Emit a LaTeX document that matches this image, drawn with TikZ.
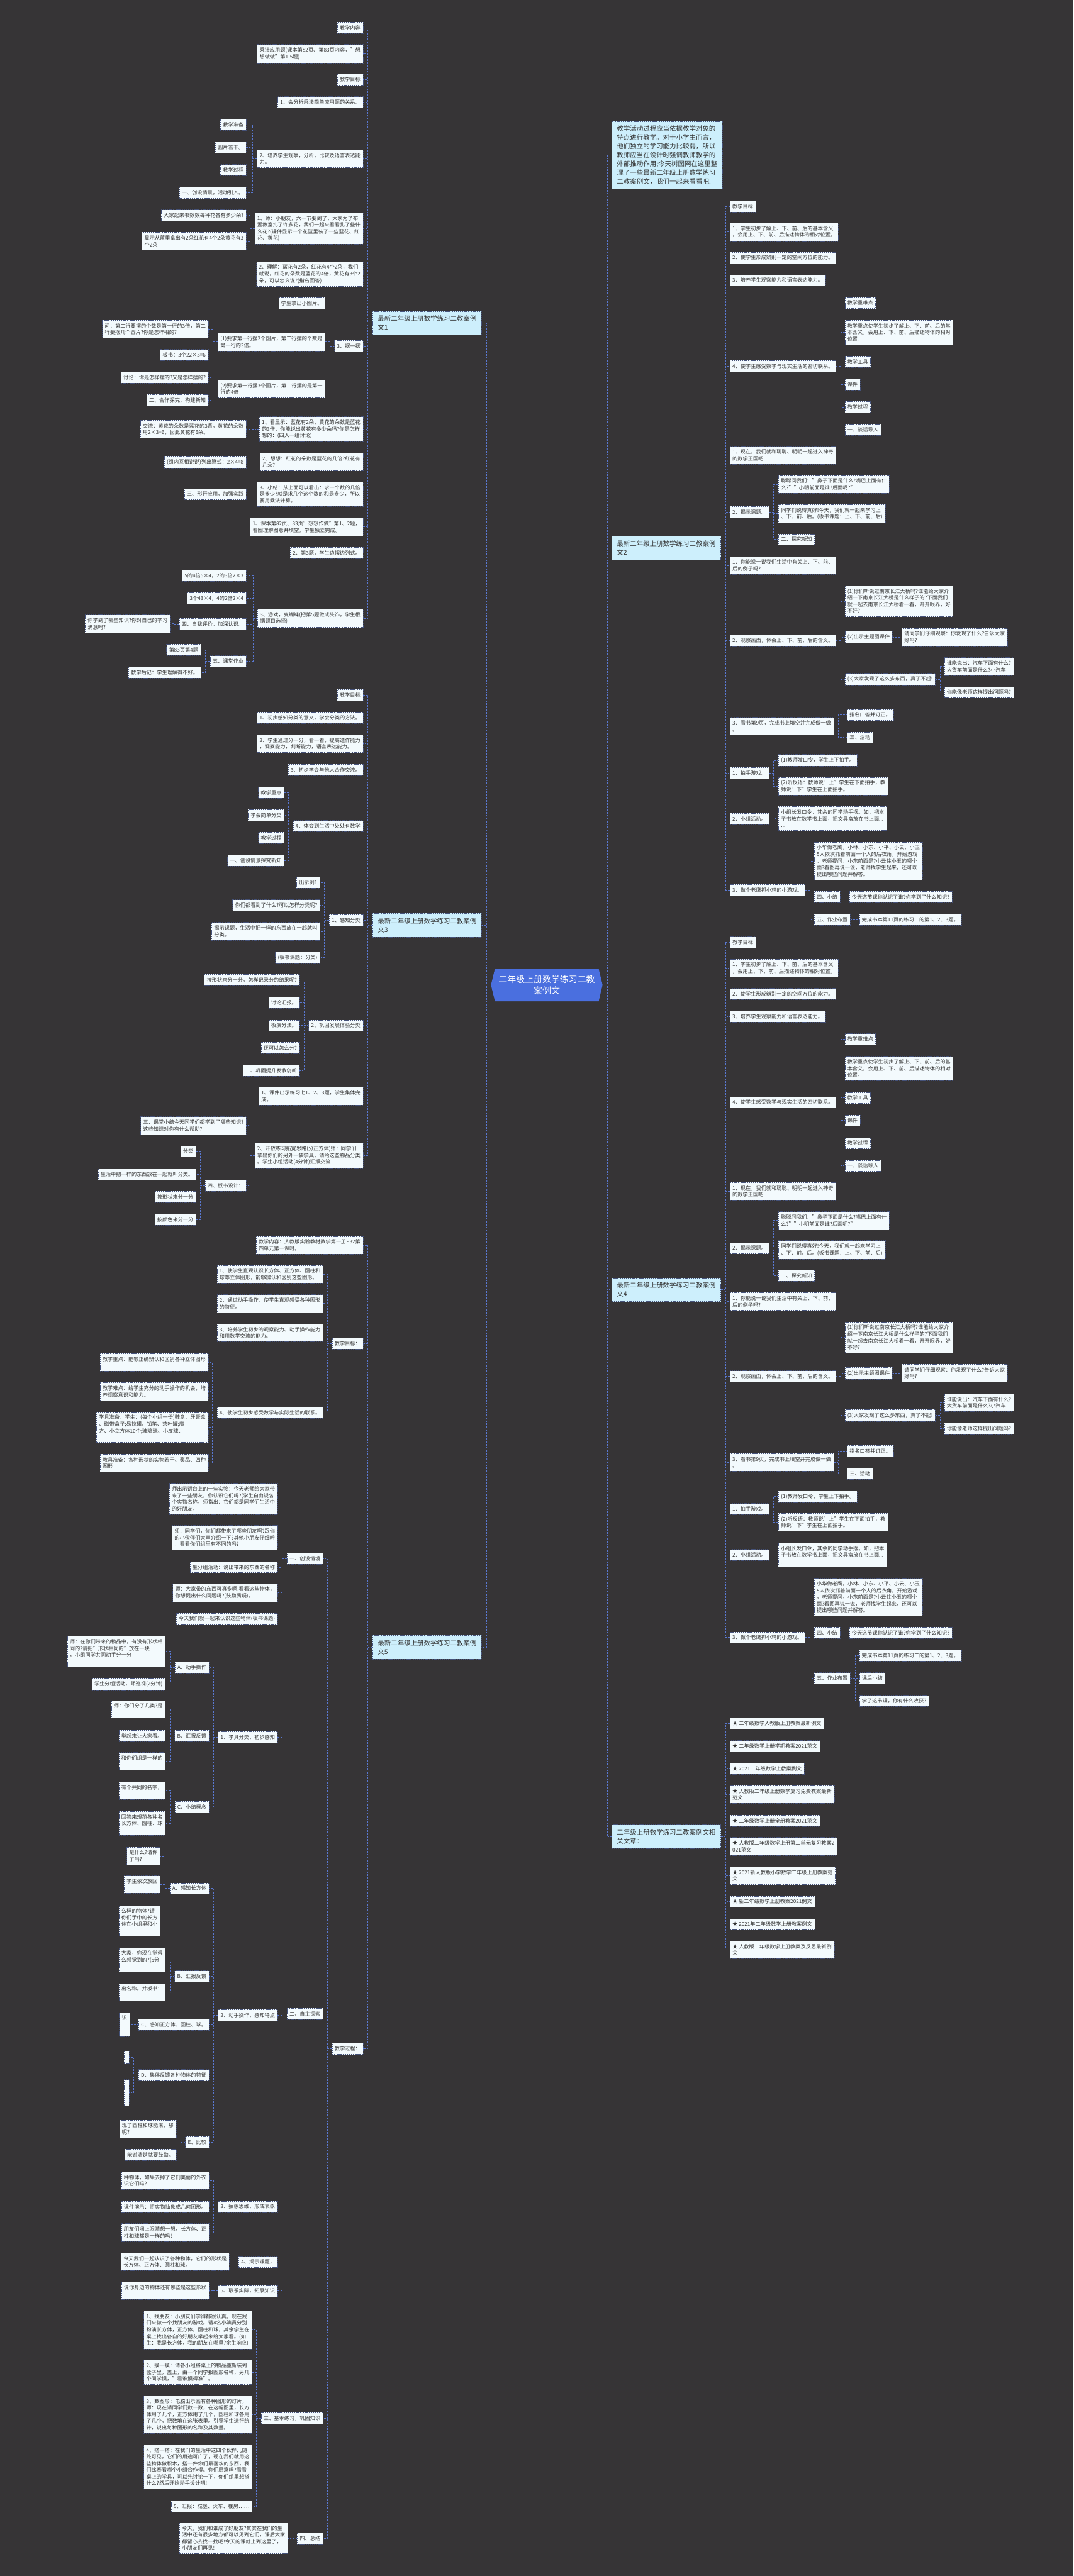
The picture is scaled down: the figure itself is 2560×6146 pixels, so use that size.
\documentclass[tikz,border=0pt]{standalone}
\usepackage{fontspec}
\setmainfont{Noto Sans CJK SC}
\usetikzlibrary{shapes.symbols}
\definecolor{Bg}{HTML}{363436}
\definecolor{Ink}{HTML}{333333}
\definecolor{LeafFill}{HTML}{F3FAFD}
\definecolor{BranchFill}{HTML}{CDEFFC}
\definecolor{BoxLine}{HTML}{45527A}
\definecolor{Link}{HTML}{5A78D0}
\definecolor{CtrFill}{HTML}{4A6FDF}
\newcommand\leaffont{\fontsize{12.3pt}{15.8pt}\selectfont}
\newcommand\branchfont{\fontsize{15.7pt}{20.8pt}\selectfont}
\newcommand\ctrfont{\fontsize{20.9pt}{28pt}\selectfont}

\tikzset{
  leaf/.style={
    draw=BoxLine,
    line width=.8pt,
    dash pattern=on 3pt off 2pt,
    fill=LeafFill,
    text=Ink,
    font=\leaffont,
    align=left,
    inner xsep=6pt,
    inner ysep=7.6pt
  },
  lnode/.style={leaf, anchor=east},
  rnode/.style={leaf, anchor=west},
  branch/.style={
    leaf,
    fill=BranchFill,
    font=\branchfont,
    inner xsep=12.2pt,
    inner ysep=10.6pt
  },
  hub/.style={
    signal,
    signal to=east and west,
    signal pointer angle=153,
    fill=CtrFill,
    text=white,
    font=\ctrfont,
    align=center,
    minimum width=266pt,
    minimum height=78pt,
    inner sep=0pt
  },
  link/.style={
    draw=Link,
    line width=1.1pt,
    dash pattern=on 4pt off 3pt
  }
}

% shared part of lessons 2 and 4 (used with a name prefix)
\newcommand\lessonupper{
  \node[rnode] (tA) at (1740.5,492) {教学目标};
  \node[rnode] (tB) at (1740.5,553) {1、学生初步了解上、下、前、后的基本含义\\，会用上、下、前、后描述物体的相对位置。};
  \node[rnode] (tC) at (1740.5,615) {2、使学生形成辨别一定的空间方位的能力。};
  \node[rnode] (tD) at (1740.5,669) {3、培养学生观察能力和语言表达能力。};
  \node[rnode] (tE) at (1740.5,873.5) {4、使学生感受数学与现实生活的密切联系。};
  \node[rnode] (tE1) at (2014.4,723) {教学重难点};
  \node[rnode] (tE2) at (2014.4,793) {教学重点使学生初步了解上、下、前、后的基\\本含义，会用上、下、前、后描述物体的相对\\位置。};
  \node[rnode] (tE3) at (2014.4,863) {教学工具};
  \node[rnode] (tE4) at (2014.4,917) {课件};
  \node[rnode] (tE5) at (2014.4,971) {教学过程};
  \node[rnode] (tE6) at (2014.4,1025) {一、谈话导入};
  \node[rnode] (tF) at (1740.5,1086) {1、现在，我们就和聪聪、明明一起进入神奇\\的数学王国吧!};
  \node[rnode] (tG) at (1740.5,1221.6) {2、揭示课题。};
  \node[rnode] (tG1) at (1856.4,1155.5) {聪聪问我们："鼻子下面是什么?嘴巴上面有什\\么?""小明前面是谁?后面呢?"};
  \node[rnode] (tG2) at (1856.4,1225.5) {同学们说得真好!今天，我们就一起来学习上\\、下、前、后。(板书课题：上、下、前、后)};
  \node[rnode] (tG3) at (1856.4,1287) {二、探究新知};
  \node[rnode] (tH) at (1740.5,1349) {1、你能说一说我们生活中有关上、下、前、\\后的例子吗?};
  \node[rnode] (tI) at (1740.5,1527.5) {2、观察画面，体会上、下、前、后的含义。};
  \node[rnode] (tI1) at (2014.4,1434.5) {(1)你们听说过南京长江大桥吗?谁能给大家介\\绍一下南京长江大桥是什么样子的?下面我们\\就一起去南京长江大桥看一看，开开眼界，好\\不好?};
  \node[rnode] (tI2) at (2014.4,1520) {(2)出示主题图课件};
  \node[rnode] (tI2a) at (2150.3,1520) {请同学们仔细观察：你发现了什么?告诉大家\\好吗?};
  \node[rnode] (tI3) at (2014.4,1620.5) {(3)大家发现了这么多东西，真了不起!};
  \node[rnode] (tI3a) at (2251.5,1590) {谁能说出：汽车下面有什么?\\大货车前面是什么?小汽车};
  \node[rnode] (tI3b) at (2251.5,1651.5) {你能像老师这样提出问题吗?};
  \node[rnode] (tJ) at (1740.5,1732.5) {3、看书第9页，完成书上填空并完成做一做\\。};
  \node[rnode] (tJ1) at (2019.7,1705.6) {指名口答并订正。};
  \node[rnode] (tJ2) at (2019.7,1759.6) {三、活动};
  \node[rnode] (tK) at (1740.5,1844) {1、拍手游戏。};
  \node[rnode] (tK1) at (1856.4,1814) {(1)教师发口令，学生上下拍手。};
  \node[rnode] (tK2) at (1856.4,1875.5) {(2)听反语：教师说"上"学生在下面拍手，教\\师说"下"学生在上面拍手。};
  \node[rnode] (tL) at (1740.5,1953.5) {2、小组活动。};
  \node[rnode] (tL1) at (1856.4,1953) {小组长发口令，其余的同学动手摆。如，把本\\子书放在数学书上面，把文具盒放在书上面...\\...};
  \node[rnode] (tM1) at (1941.4,2054) {小华做老鹰，小林、小东、小平、小云、小玉\\5人依次抓着前面一个人的后衣角，开始游戏\\，老师提问，小东前面是?小云住小玉的哪个\\面?看图再说一说，老师找学生起来，还可以\\提出哪些问题并解答。};
  \foreach \p/\cs in {tE/{tE1,tE2,tE3,tE4,tE5,tE6}, tG/{tG1,tG2,tG3},
    tI/{tI1,tI2,tI3}, tI2/{tI2a}, tI3/{tI3a,tI3b}, tJ/{tJ1,tJ2},
    tK/{tK1,tK2}, tL/{tL1}}{
    \foreach \c in \cs{
      \draw[link] (\p.east) -- ++(11,0) |- (\c.west);
    }
  }
}

\begin{document}
\begin{tikzpicture}[x=1pt,y=-1pt]

\fill[Bg] (0,0) rectangle (2560,6146);
\useasboundingbox (0,0) rectangle (2560,6146);

% centre and main branches
\node[hub] (ctr) at (1304,2350) {二年级上册数学练习二教\\案例文};

\node[branch, anchor=east] (b1) at (1149,771) {最新二年级上册数学练习二教案例\\文1};
\node[branch, anchor=east] (b3) at (1149,2207.5) {最新二年级上册数学练习二教案例\\文3};
\node[branch, anchor=east] (b5) at (1149,3930) {最新二年级上册数学练习二教案例\\文5};

\node[branch, anchor=west] (intro) at (1458.6,370) {教学活动过程应当依据教学对象的\\特点进行教学。对于小学生而言，\\他们独立的学习能力比较弱，所以\\教师应当在设计时强调教师教学的\\外部推动作用;今天树图网在这里整\\理了一些最新二年级上册数学练习\\二教案例文，我们一起来看看吧!};
\node[branch, anchor=west] (b2) at (1458.6,1307.4) {最新二年级上册数学练习二教案例\\文2};
\node[branch, anchor=west] (b4) at (1458.6,3077) {最新二年级上册数学练习二教案例\\文4};
\node[branch, anchor=west] (rel) at (1458.6,4382) {二年级上册数学练习二教案例文相\\关文章：};

\foreach \b in {b1,b3,b5}{
  \draw[link] (ctr.west) -- ++(-11,0) |- (\b.east);
}
\foreach \b in {intro,b2,b4,rel}{
  \draw[link] (ctr.east) -- ++(11,0) |- (\b.west);
}

% lesson 1
\node[lnode] (b1a) at (866,66) {教学内容};
\node[lnode] (b1b) at (866,128) {乘法应用题(课本第82页、第83页内容，"想\\想做做"第1-5题)};
\node[lnode] (b1c) at (866,190) {教学目标};
\node[lnode] (b1d) at (866,244) {1、会分析乘法简单应用题的关系。};
\node[lnode] (b1e) at (866,379) {2、培养学生观察，分析，比较及语言表达能\\力。};
\node[lnode] (b1e1) at (587.4,298) {教学准备};
\node[lnode] (b1e2) at (587.4,352) {圆片若干。};
\node[lnode] (b1e3) at (587.4,406) {教学过程};
\node[lnode] (b1e4) at (587.4,460) {一、创设情景，活动引入。};
\node[lnode] (b1f) at (866,545) {1、师：小朋友，六一节要到了，大家为了布\\置教室扎了许多花，我们一起来看看扎了些什\\么花?(课件显示一个花篮里装了一些蓝花、红\\花、黄花)};
\node[lnode] (b1f1) at (587.4,514) {大家起来书数数每种花各有多少朵?};
\node[lnode] (b1f2) at (587.4,575.5) {显示从蓝里拿出有2朵红花有4个2朵黄花有3\\个2朵};
\node[lnode] (b1g) at (866,654) {2、理解：蓝花有2朵，红花有4个2朵，我们\\就说，红花的朵数是蓝花的4倍，黄花有3个2\\朵，可以怎么说?(指名回答)};
\node[lnode] (b1h) at (866,825.5) {3、摆一摆};
\node[lnode] (b1h1) at (775.5,723) {学生拿出小图片。};
\node[lnode] (b1h2) at (775.5,816) {(1)要求第一行摆2个圆片，第二行摆的个数是\\第一行的3倍。};
\node[lnode] (b1h2a) at (497,785.5) {问：第二行要摆的个数是第一行的3倍，第二\\行要摆几个圆片?你是怎样相的?};
\node[lnode] (b1h2b) at (497,847) {板书：3个22×3=6};
\node[lnode] (b1h3) at (775.5,928) {(2)要求第一行摆3个圆片，第二行摆的是第一\\行的4倍};
\node[lnode] (b1h3a) at (497,900.5) {讨论：你是怎样摆的?又是怎样摆的?};
\node[lnode] (b1h3b) at (497,955) {二、合作探究，构建新知};
\node[lnode] (b1i) at (866,1024) {1、看显示：蓝花有2朵，黄花的朵数是蓝花\\的3倍，你能说出黄花有多少朵吗?你是怎样\\想的：(四人一组讨论)};
\node[lnode] (b1i1) at (587.4,1024) {交流：黄花的朵数是蓝花的3背，黄花的朵数\\用2×3=6，因此黄花有6朵。};
\node[lnode] (b1j) at (866,1102) {2、想想：红花的朵数是蓝花的几倍?红花有\\几朵?};
\node[lnode] (b1j1) at (587.4,1102) {(组内互相说说)列出算式：2×4=8};
\node[lnode] (b1k) at (866,1179) {3、小结：从上面可以看出：求一个数的几倍\\是多少?就是求几个这个数的和是多少，所以\\要用乘法计算。};
\node[lnode] (b1k1) at (587.4,1179) {三、形行应用，加强实践};
\node[lnode] (b1l) at (866,1257) {1、课本第82页、83页"想想作做"第1、2题，\\看图理解图意并填空。学生独立完成。};
\node[lnode] (b1m) at (866,1319) {2、第3题，学生边摆边列式。};
\node[lnode] (b1n) at (866,1475) {3、游戏，变蝴蝶(把第5题做成头饰，学生根\\据题目选择)};
\node[lnode] (b1n1) at (587.4,1373) {5的4倍5×4，2的3倍2×3};
\node[lnode] (b1n2) at (587.4,1427) {3个43×4，4的2倍2×4};
\node[lnode] (b1n3) at (587.4,1489) {四、自我评价，加深认识。};
\node[lnode] (b1n3a) at (406,1488) {你学到了哪些知识?你对自己的学习\\满意吗?};
\node[lnode] (b1n4) at (587.4,1577.5) {五、课堂作业};
\node[lnode] (b1n4a) at (479,1550.5) {第83页第4题};
\node[lnode] (b1n4b) at (479,1604.5) {教学后记：学生理解得不好。};

% lesson 3
\node[lnode] (b3a) at (866,1658.5) {教学目标};
\node[lnode] (b3b) at (866,1712) {1、初步感知分类的意义，学会分类的方法。};
\node[lnode] (b3c) at (866,1774) {2、学生通过分一分，看一看，提高造作能力\\，观察能力，判断能力，语言表达能力。};
\node[lnode] (b3d) at (866,1836.5) {3、初步学会与他人合作交流。};
\node[lnode] (b3e) at (866,1971) {4、体会到生活中处处有数学};
\node[lnode] (b3e1) at (677.9,1890.5) {教学重点};
\node[lnode] (b3e2) at (677.9,1944.5) {学会简单分类};
\node[lnode] (b3e3) at (677.9,1998.5) {教学过程};
\node[lnode] (b3e4) at (677.9,2053) {一、创设情景探究新知};
\node[lnode] (b3f) at (866,2195.6) {1、感知分类};
\node[lnode] (b3f1) at (763.3,2106) {出示例1};
\node[lnode] (b3f2) at (763.3,2160) {你们都看到了什么?可以怎样分类呢?};
\node[lnode] (b3f3) at (763.3,2222) {揭示课题，生活中把一样的东西放在一起就叫\\分类。};
\node[lnode] (b3f4) at (763.3,2284.5) {(板书课题：分类)};
\node[lnode] (b3g) at (866,2447) {2、巩固发展体验分类};
\node[lnode] (b3g1) at (714.5,2338) {按形状来分一分，怎样记录分的结果呢?};
\node[lnode] (b3g2) at (714.5,2392.5) {讨论汇报。};
\node[lnode] (b3g3) at (714.5,2447) {板演分法。};
\node[lnode] (b3g4) at (714.5,2500) {还可以怎么分?};
\node[lnode] (b3g5) at (714.5,2554) {二、巩固提升发散创新};
\node[lnode] (b3h) at (866,2615) {1、课件出示练习七1、2、3题，学生集体完\\成。};
\node[lnode] (b3i) at (866,2757) {2、开放练习拓宽思路(分正方体)师：同学们\\拿出你们的另外一袋学具，请给这些物品分类\\。学生小组活动(4分钟)汇报交流};
\node[lnode] (b3i1) at (587.4,2685.5) {三、课堂小结今天同学们都学到了哪些知识?\\这些知识对你有什么帮助?};
\node[lnode] (b3i2) at (587.4,2828.5) {四、板书设计：};
\node[lnode] (b3i2a) at (467.6,2747) {分类};
\node[lnode] (b3i2b) at (467.6,2801.5) {生活中把一样的东西放在一起就叫分类。};
\node[lnode] (b3i2c) at (467.6,2855.5) {按形状来分一分};
\node[lnode] (b3i2d) at (467.6,2909.5) {按颜色来分一分};

% lesson 5
\node[lnode] (b5a) at (866,2971) {教学内容：人教版实验教材数学第一册P32第\\四单元第一课时。};
\node[lnode] (b5b) at (866,3205.6) {教学目标：};
\node[lnode] (b5b1) at (770.5,3040) {1、使学生直观认识长方体、正方体、圆柱和\\球等立体图形，能够辨认和区别这些图形。};
\node[lnode] (b5b2) at (770.5,3110) {2、通过动手操作，使学生直观感受各种图形\\的特征。};
\node[lnode] (b5b3) at (770.5,3180) {3、培养学生初步的观察能力、动手操作能力\\和用数学交流的能力。};
\node[lnode] (b5b4) at (770.5,3370.7) {4、使学生初步感受数学与实际生活的联系。};
\node[lnode] (b5b4a) at (497,3250) {教学重点：能够正确辨认和区别各种立体图形\\};
\node[lnode] (b5b4b) at (497,3320) {教学难点：给学生充分的动手操作的机会，培\\养观察意识和能力。};
\node[lnode] (b5b4c) at (497,3405) {学具准备：学生：(每个小组一份)鞋盒、牙膏盒\\、磁带盒子;易拉罐、铅笔、茶叶罐;魔\\方、小立方体10个;玻璃珠、小皮球、\\};
\node[lnode] (b5b4d) at (497,3490.5) {教具准备：各种形状的实物若干、奖品、四种\\图形};
\node[lnode] (b5c) at (866,4888) {教学过程：};
\node[lnode] (b5c1) at (770.5,3719) {一、创设情境};
\node[lnode] (b5c1a) at (662.3,3576) {师出示讲台上的一些实物：今天老师给大家带\\来了一些朋友，你认识它们吗?(学生自由说各\\个实物名称，师指出：它们都是同学们生活中\\的好朋友。};
\node[lnode] (b5c1b) at (662.3,3669) {师：同学们，你们都带来了哪些朋友啊?跟你\\的小伙伴们大声介绍一下?其他小朋友仔细听\\，看看你们组里有不同的吗?};
\node[lnode] (b5c1c) at (662.3,3739) {生分组活动：说出带来的东西的名称};
\node[lnode] (b5c1d) at (662.3,3800) {师：大家带的东西可真多啊!看看这些物体，\\你想提出什么问题吗?(鼓励质疑)。};
\node[lnode] (b5c1e) at (662.3,3862.5) {今天我们就一起来认识这些物体(板书课题)};
\node[lnode] (b5c2) at (770.5,4805) {二、自主探索};
\node[lnode] (b5c2a) at (662.3,4144.4) {1、学具分类，初步感知};
\node[lnode] (pA) at (498.6,3978.6) {A、动手操作};
\node[lnode] (pA1) at (394.3,3940) {师：在你们带来的物品中，有没有形状相\\同的?请把"形状相同的"放在一块\\，小组同学共同动手分一分\\};
\node[lnode] (pA2) at (394.3,4018) {学生分组活动，师巡视(2分钟)};
\node[lnode] (pB) at (498.6,4141.6) {B、汇报反馈};
\node[lnode] (pB1) at (394.3,4078) {师：你们分了几类?是\\};
\node[lnode] (pB2) at (394.3,4141.6) {举起来让大家看。};
\node[lnode] (pB3) at (394.3,4202) {和你们组是一样的\\};
\node[lnode] (pC) at (498.6,4311) {C、小结概念};
\node[lnode] (pC1) at (394.3,4272) {有个共同的名字，\\};
\node[lnode] (pC2) at (394.3,4350) {回答来规范各种名\\长方体、圆柱、球\\};
\node[lnode] (b5c2b) at (662.3,4807.6) {2、动手操作，感知特点};
\node[lnode] (qA) at (498.6,4505.7) {A、感知长方体};
\node[lnode] (qA1) at (382.1,4427.7) {是什么?请你\\了吗?};
\node[lnode] (qA2) at (382.1,4496) {学生依次放回\\};
\node[lnode] (qA3) at (382.1,4582.6) {么样的物体?请\\你们手中的长方\\体在小组里和小\\};
\node[lnode] (qB) at (498.6,4715) {B、汇报反馈};
\node[lnode] (qB1) at (394.3,4675.5) {大家，你现在觉得\\么感觉到的?(5分\\};
\node[lnode] (qB2) at (394.3,4753) {出名称。并板书：\\};
\node[lnode] (qC) at (498.6,4830.5) {C、感知正方体、圆柱、球。};
\node[lnode] (qC1) at (309.4,4830) {识\\\\};
\node[lnode] (qD) at (498.6,4951) {D、集体反馈各种物体的特征};
\node[lnode] (qD1) at (308.3,4908.6) {\\};
\node[lnode] (qD2) at (308.3,4993) {\\\\\\};
\node[lnode] (qE) at (498.6,5110.5) {E、比较};
\node[lnode] (qE1) at (420.4,5079) {现了圆柱和球能滚，那\\呢?};
\node[lnode] (qE2) at (420.4,5140.7) {能说清楚就要鼓励。};
\node[lnode] (b5c2c) at (662.3,5265) {3、抽象思维，形成表象};
\node[lnode] (rA1) at (498.6,5202.5) {种物体，如果去掉了它们美丽的外衣\\识它们吗?};
\node[lnode] (rA2) at (498.6,5265) {课件演示：将实物抽象成几何图形。};
\node[lnode] (rA3) at (498.6,5326.5) {朋友们闭上眼睛想一想，长方体、正\\柱和球都是一样的吗?};
\node[lnode] (b5c2d) at (662.3,5396.6) {4、揭示课题，};
\node[lnode] (sA1) at (546.9,5396) {今天我们一起认识了各种物体，它们的形状是\\长方体、正方体、圆柱和球。};
\node[lnode] (b5c2e) at (662.3,5466) {5、联系实际，拓展知识};
\node[lnode] (tA1) at (498.6,5465) {说你身边的物体还有哪些是这些形状\\};
\node[lnode] (b5c3) at (770.5,5769.7) {三、基本练习，巩固知识};
\node[lnode] (uA1) at (601.3,5559) {1、找朋友：小朋友们学得都很认真，现在我\\们来做一个找朋友的游戏。请4名小演员分别\\扮演长方体，正方体，圆柱和球，其余学生在\\桌上找出各自的好朋友举起来给大家看。(如\\生：我是长方体，我的朋友在哪里?余生响应)};
\node[lnode] (uA2) at (601.3,5660) {2、摸一摸：请各小组将桌上的物品重新装到\\盒子里，盖上，由一个同学报图形名称，另几\\个同学摸，"看谁摸得准"。};
\node[lnode] (uA3) at (601.3,5760.8) {3、数图形：电脑出示画有各种图形的灯片，\\师：现在请同学们数一数，在这幅图里，长方\\体用了几个，正方体用了几个，圆柱和球各用\\了几个，把数填在这张表里。引导学生进行统\\计，说出每种图形的名称及其数量。};
\node[lnode] (uA4) at (601.3,5885.5) {4、搭一搭：在我们的生活中这四个伙伴儿随\\处可见，它们的用途可广了，现在我们就用这\\些物体做积木，搭一件你们最喜欢的东西，我\\们比赛看哪个小组合作得。你们愿意吗?看看\\桌上的学具，可以先讨论一下，你们组里想搭\\什么?然后开始动手设计吧!};
\node[lnode] (uA5) at (601.3,5979.5) {5、汇报：城堡、火车、楼房……};
\node[lnode] (b5c4) at (770.5,6056.6) {四、总结};
\node[lnode] (vA1) at (686.7,6056) {今天，我们和谁成了好朋友?其实在我们的生\\活中还有很多地方都可以见到它们，课后大家\\都留心去找一找吧!今天的课就上到这里了，\\小朋友们再见!};

\foreach \p/\cs in {
  b1/{b1a,b1b,b1c,b1d,b1e,b1f,b1g,b1h,b1i,b1j,b1k,b1l,b1m,b1n},
  b1e/{b1e1,b1e2,b1e3,b1e4}, b1f/{b1f1,b1f2}, b1h/{b1h1,b1h2,b1h3},
  b1h2/{b1h2a,b1h2b}, b1h3/{b1h3a,b1h3b}, b1i/{b1i1}, b1j/{b1j1},
  b1k/{b1k1}, b1n/{b1n1,b1n2,b1n3,b1n4}, b1n3/{b1n3a}, b1n4/{b1n4a,b1n4b},
  b3/{b3a,b3b,b3c,b3d,b3e,b3f,b3g,b3h,b3i},
  b3e/{b3e1,b3e2,b3e3,b3e4}, b3f/{b3f1,b3f2,b3f3,b3f4},
  b3g/{b3g1,b3g2,b3g3,b3g4,b3g5}, b3i/{b3i1,b3i2},
  b3i2/{b3i2a,b3i2b,b3i2c,b3i2d},
  b5/{b5a,b5b,b5c}, b5b/{b5b1,b5b2,b5b3,b5b4},
  b5b4/{b5b4a,b5b4b,b5b4c,b5b4d}, b5c/{b5c1,b5c2,b5c3,b5c4},
  b5c1/{b5c1a,b5c1b,b5c1c,b5c1d,b5c1e},
  b5c2/{b5c2a,b5c2b,b5c2c,b5c2d,b5c2e},
  b5c2a/{pA,pB,pC}, pA/{pA1,pA2}, pB/{pB1,pB2,pB3}, pC/{pC1,pC2},
  b5c2b/{qA,qB,qC,qD,qE}, qA/{qA1,qA2,qA3}, qB/{qB1,qB2}, qC/{qC1},
  qD/{qD1,qD2}, qE/{qE1,qE2}, b5c2c/{rA1,rA2,rA3}, b5c2d/{sA1},
  b5c2e/{tA1}, b5c3/{uA1,uA2,uA3,uA4,uA5}, b5c4/{vA1}}{
  \foreach \c in \cs{
    \draw[link] (\p.west) -- ++(-11,0) |- (\c.east);
  }
}

% lesson 2
\begin{scope}[name prefix=b2-]
  \lessonupper
  \node[rnode] (tM) at (1740.5,2123.6) {3、做个老鹰抓小鸡的小游戏。};
  \node[rnode] (tM2) at (1941.4,2140) {四、小结};
  \node[rnode] (tM2a) at (2025,2140) {今天这节课你认识了谁?你学到了什么知识?};
  \node[rnode] (tM3) at (1941.4,2194) {五、作业布置};
  \node[rnode] (tM3a) at (2049.2,2194) {完成书本第11页的练习二的第1、2、3题。};
  \foreach \p/\cs in {tM/{tM1,tM2,tM3}, tM2/{tM2a}, tM3/{tM3a}}{
    \foreach \c in \cs{
      \draw[link] (\p.east) -- ++(11,0) |- (\c.west);
    }
  }
\end{scope}

% lesson 4
\begin{scope}[name prefix=b4-, yshift=-1756.4pt]
  \lessonupper
  \node[rnode] (tM) at (1740.5,2150.6) {3、做个老鹰抓小鸡的小游戏。};
  \node[rnode] (tM2) at (1941.4,2138.9) {四、小结};
  \node[rnode] (tM2a) at (2025,2138.9) {今天这节课你认识了谁?你学到了什么知识?};
  \node[rnode] (tM3) at (1941.4,2247.6) {五、作业布置};
  \node[rnode] (tM3a) at (2049.2,2193.1) {完成书本第11页的练习二的第1、2、3题。};
  \node[rnode] (tM3b) at (2049.2,2247.6) {课后小结};
  \node[rnode] (tM3c) at (2049.2,2301.6) {学了这节课，你有什么收获?};
  \foreach \p/\cs in {tM/{tM1,tM2,tM3}, tM2/{tM2a}, tM3/{tM3a,tM3b,tM3c}}{
    \foreach \c in \cs{
      \draw[link] (\p.east) -- ++(11,0) |- (\c.west);
    }
  }
\end{scope}

\foreach \b in {b2,b4}{
  \foreach \c in {tA,tB,tC,tD,tE,tF,tG,tH,tI,tJ,tK,tL,tM}{
    \draw[link] (\b.east) -- ++(11,0) |- (\b-\c.west);
  }
}

% related articles
\node[rnode] (r1) at (1740.5,4112) {★ 二年级数学人教版上册教案最新例文};
\node[rnode] (r2) at (1740.5,4166) {★ 二年级数学上册学期教案2021范文};
\node[rnode] (r3) at (1740.5,4220) {★ 2021二年级数学上教案例文};
\node[rnode] (r4) at (1740.5,4281) {★ 人教版二年级上册数学复习免费教案最新\\范文};
\node[rnode] (r5) at (1740.5,4344) {★ 二年级数学上册全册教案2021范文};
\node[rnode] (r6) at (1740.5,4405) {★ 人教版二年级数学上册第二单元复习教案2\\021范文};
\node[rnode] (r7) at (1740.5,4475) {★ 2021新人教版小学数学二年级上册教案范\\文};
\node[rnode] (r8) at (1740.5,4537) {★ 新二年级数学上册教案2021例文};
\node[rnode] (r9) at (1740.5,4591) {★ 2021年二年级数学上册教案例文};
\node[rnode] (r10) at (1740.5,4652) {★ 人教版二年级数学上册教案及反思最新例\\文};
\foreach \c in {r1,r2,r3,r4,r5,r6,r7,r8,r9,r10}{
  \draw[link] (rel.east) -- ++(11,0) |- (\c.west);
}

\end{tikzpicture}
\end{document}
